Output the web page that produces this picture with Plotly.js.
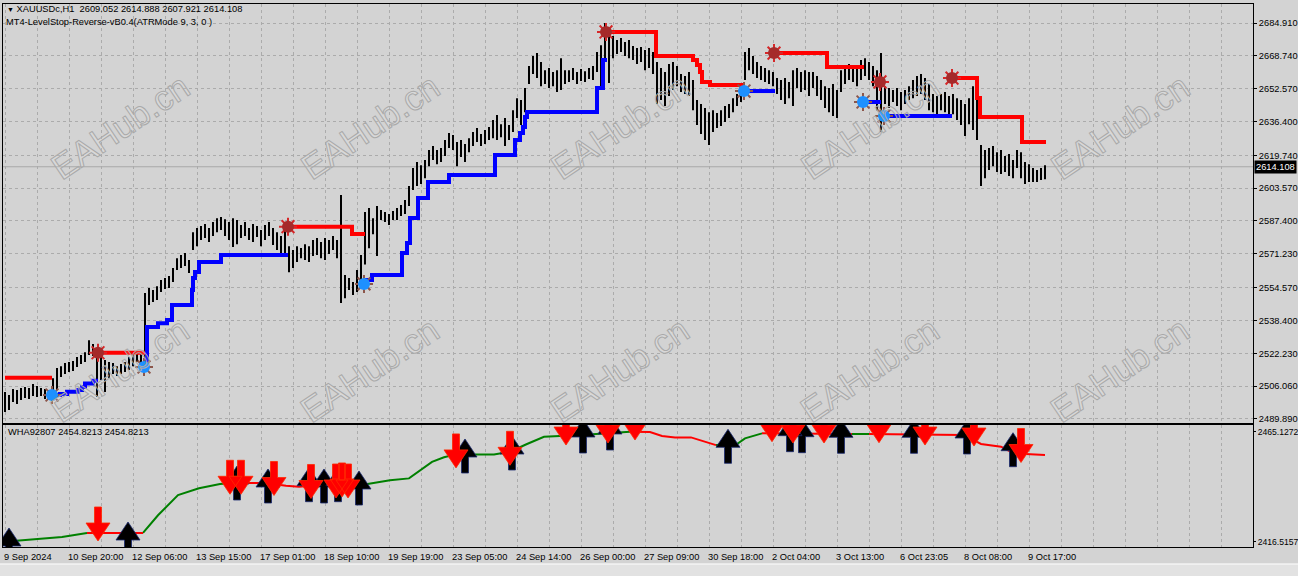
<!DOCTYPE html>
<html><head><meta charset="utf-8">
<script src="https://cdn.plot.ly/plotly-3.0.1.min.js"></script>
<style>html,body{margin:0;padding:0;background:#d3d3d3;overflow:hidden}#chart{width:1298px;height:576px}</style>
</head><body><div id="chart"></div>
<script>
// ---------- DATA ----------
const symbolName = 'XAUUSDc,H1';
const lastOHLC = [2609.052, 2614.888, 2607.921, 2614.108];
const indicatorTitle = 'MT4-LevelStop-Reverse-vB0.4(ATRMode 9, 3, 0 )';
const subName = 'WHA92807';
const subLast = 2454.8213;
const watermarkText = 'EAHub.cn';

// H1 bars (sampled every 2nd bar): high / low
const barHigh = [
2503.2,2501.7,2504.6,2504.1,2505.1,2505.6,2505.1,2507.1,2506.1,2505.1,
2504.6,2504.1,2510.0,2515.0,2515.9,2517.4,2517.9,2518.4,2520.4,2521.4,
2522.8,2528.7,2526.8,2523.8,2520.4,2518.9,2517.9,2517.4,2515.9,2516.9,
2517.9,2520.4,2522.8,2522.0,2522.3,2551.9,2554.4,2553.4,2555.3,2558.3,
2559.3,2560.3,2564.2,2569.1,2570.6,2571.6,2568.2,2581.9,2583.9,2584.9,
2585.9,2583.9,2586.9,2588.8,2589.3,2588.3,2586.9,2588.8,2587.9,2585.4,
2586.9,2583.9,2585.9,2584.9,2582.9,2585.4,2586.9,2583.9,2581.9,2580.0,
2583.9,2575.0,2573.1,2575.0,2574.1,2576.0,2575.0,2578.0,2579.0,2577.0,
2579.0,2578.0,2580.0,2578.0,2600.2,2560.8,2559.3,2557.3,2563.2,2570.6,
2591.8,2593.8,2588.8,2594.8,2592.8,2591.8,2590.8,2592.3,2593.8,2595.3,
2597.7,2604.6,2613.5,2616.4,2614.9,2617.4,2622.3,2624.3,2622.3,2623.3,
2627.3,2630.7,2629.7,2626.3,2627.3,2625.3,2628.2,2631.2,2633.2,2630.2,
2632.2,2633.7,2637.1,2639.6,2635.1,2638.1,2634.7,2642.0,2647.9,2647.0,
2652.9,2663.7,2668.6,2670.1,2665.7,2661.7,2662.7,2660.8,2661.7,2667.6,
2661.7,2661.7,2662.7,2660.8,2662.2,2661.2,2662.7,2663.7,2670.6,2674.0,
2684.9,2679.5,2678.5,2676.5,2677.5,2675.5,2676.5,2673.6,2672.6,2673.1,
2671.6,2672.6,2670.6,2665.7,2662.7,2660.8,2664.7,2665.7,2663.7,2659.8,
2658.8,2660.8,2656.8,2647.0,2645.0,2643.0,2641.0,2642.0,2640.6,2642.0,
2644.0,2645.0,2647.9,2649.9,2651.9,2670.6,2672.6,2668.6,2665.7,2663.7,
2662.7,2661.7,2660.8,2657.8,2656.8,2657.8,2655.8,2661.7,2662.7,2660.8,
2661.7,2660.8,2660.8,2658.8,2656.8,2653.8,2652.9,2654.9,2651.9,2661.7,
2663.7,2664.7,2663.2,2664.2,2666.7,2667.6,2665.7,2663.7,2661.7,2670.1,
2653.8,2652.9,2651.9,2652.9,2650.9,2651.9,2653.8,2656.8,2658.8,2659.8,
2657.8,2654.9,2649.9,2648.9,2649.9,2650.9,2648.9,2649.9,2647.9,2647.0,
2645.0,2647.9,2653.8,2647.0,2624.8,2622.3,2623.3,2624.3,2621.3,2622.3,
2619.4,2620.4,2617.4,2622.3,2621.3,2616.4,2615.4,2613.5,2612.5,2613.5,2614.888];
const barLow = [
2493.3,2494.3,2498.2,2497.2,2499.2,2500.2,2499.7,2501.2,2500.7,2501.2,
2499.7,2500.2,2503.2,2504.1,2510.5,2512.0,2513.0,2513.5,2515.5,2516.9,
2517.9,2521.4,2520.9,2500.7,2509.1,2503.2,2510.0,2512.0,2511.0,2512.0,
2513.0,2514.0,2515.9,2517.9,2517.4,2517.4,2546.0,2547.5,2548.5,2552.4,
2553.9,2554.4,2557.3,2563.2,2564.2,2565.2,2561.8,2573.1,2575.0,2578.0,
2579.0,2577.0,2580.0,2581.9,2582.9,2580.0,2578.0,2574.6,2576.0,2579.0,
2580.0,2578.0,2577.0,2579.5,2575.0,2578.0,2580.0,2575.6,2573.1,2571.1,
2569.6,2562.2,2564.2,2567.2,2569.1,2568.2,2567.2,2570.1,2570.6,2569.1,
2568.2,2571.1,2573.1,2569.1,2547.0,2549.4,2553.4,2550.9,2552.4,2555.8,
2566.0,2574.0,2580.9,2570.1,2587.9,2586.9,2585.4,2587.9,2587.9,2589.8,
2590.8,2594.8,2602.6,2604.6,2605.6,2608.5,2614.4,2617.4,2615.4,2616.4,
2619.4,2623.3,2622.3,2614.4,2618.9,2616.4,2621.3,2624.3,2626.3,2624.3,
2625.3,2627.3,2628.2,2627.3,2628.7,2624.3,2627.3,2631.2,2638.1,2634.7,
2641.0,2654.9,2659.8,2657.8,2653.8,2654.9,2652.9,2653.8,2650.9,2651.9,
2654.9,2655.8,2656.8,2654.9,2656.3,2655.8,2657.3,2656.8,2660.8,2653.8,
2666.7,2655.3,2667.6,2669.6,2670.6,2668.6,2667.6,2666.7,2664.7,2665.7,
2661.7,2662.7,2659.8,2645.0,2647.0,2644.0,2648.9,2651.9,2653.8,2650.9,
2649.9,2648.9,2642.0,2634.7,2630.2,2627.3,2624.8,2631.2,2633.2,2634.2,
2636.1,2638.1,2641.0,2644.0,2646.0,2656.8,2661.7,2659.8,2657.8,2656.8,
2655.8,2654.9,2653.8,2649.9,2647.0,2645.0,2647.9,2644.0,2652.9,2650.9,
2651.9,2648.9,2652.9,2648.9,2647.0,2643.0,2641.0,2639.1,2638.1,2650.9,
2654.9,2656.8,2655.8,2653.8,2656.8,2658.8,2656.8,2653.8,2642.0,2631.2,
2645.0,2643.0,2646.0,2644.0,2642.0,2645.0,2647.0,2647.9,2648.9,2649.9,
2647.0,2642.0,2641.0,2640.0,2642.0,2641.0,2638.1,2640.0,2637.1,2634.7,
2629.2,2635.1,2632.2,2627.3,2604.6,2608.5,2612.5,2614.4,2611.5,2610.5,
2611.5,2609.5,2608.5,2613.5,2608.5,2605.6,2606.6,2606.6,2606.6,2607.6,2607.921];

// LevelStop lines (bar position, level), null separates segments
const redStopBar = [0,11.75,null, 23.25,35,null, 70.75,86.75,90,null,
  150.25,162.75,172,173,173.75,174.25,176.25,184.75,null, 192.25,205.5,214.75,null,
  236.75,243,243.75,254.25,260.25];
const redStopLevel = [2510.2,2510.2,null, 2522.5,2522.5,null, 2584.6,2581.0,2581.0,null,
  2680.5,2668.7,2666.7,2664.2,2660.8,2655.9,2654.4,2654.4,null, 2670.1,2663.2,2663.2,null,
  2657.8,2648.0,2638.6,2626.3,2626.3];
const blueStopBar = [11.75,13.75,15.5,18.25,19.25,20,22,23.25,null,
  34.75,35.5,38.25,40.5,41.75,46.75,47,47.5,48.5,54,70.75,null,
  89.75,91.75,99.25,100.5,101.25,103.25,105.75,111,122.5,127.5,128.75,129.5,130,130.5,148,149.5,150.5,null,
  184.75,192.5,null, 214.5,219,null, 219.75,236.75];
const blueStopLevel = [2501.7,2502.2,2503.3,2504.2,2505.6,2507.4,2508.7,2508.7,null,
  2515.5,2535.2,2537.0,2538.6,2546.0,2553.4,2559.3,2562.3,2567.2,2570.6,2570.6,null,
  2558.3,2560.8,2571.6,2576.6,2588.9,2598.7,2606.6,2610.0,2619.9,2627.3,2630.7,2633.7,2638.6,2641.1,2652.9,2666.7,2666.7,null,
  2651.4,2651.4,null, 2646.0,2646.0,null, 2639.1,2639.1];

// reversal dots
const sellDotBar = [23.25,70.75,150.25,192.25,218.75,236.75];
const sellDotLevel = [2522.5,2584.6,2680.5,2670.1,2655.9,2657.8];
const buyDotBar = [11.75,34.75,89.75,184.75,214.5,219.75];
const buyDotLevel = [2501.7,2515.5,2556.4,2651.4,2646.0,2639.1];

// lower indicator WHA92807 (green = rising state, red = falling state)
const whaUpBar = [-0.25,3,9,14.25,20.5,null, 34.5,38.25,43.25,46.5,48.5,53.75,56.75,null,
  88.75,96.25,101,106.75,109.75,112.75,122.25,126.25,130.5,134.75,144,154.25,156.25,null,
  177.75,183,185,189.25,null, 211.75,216];
const whaUpVal = [2416.5157,2417.0,2417.8,2418.6,2420.4,null, 2420.4,2428.2,2437.1,2439.0,2440.1,2442.0,2442.5,null,
  2441.5,2443.7,2444.5,2451.8,2453.8,2455.1,2455.1,2456.3,2459.7,2462.9,2463.7,2465.1272,2465.1,null,
  2459.2,2459.7,2462.2,2464.4,null, 2464.1,2464.1];
const whaDnBar = [20.5,34.5,null, 56.75,65.25,70.25,73.5,77.5,83.75,88.75,null,
  156.25,161.25,164.25,167.5,171.5,174.75,177.75,null, 189.25,211.75,null,
  216,239.75,244,249,252.25,260];
const whaDnVal = [2420.4,2420.4,null, 2442.5,2442.5,2441.2,2440.8,2441.5,2441.8,2441.5,null,
  2465.1,2465.0,2463.2,2462.6,2462.6,2460.7,2459.2,null, 2464.4,2464.1,null,
  2464.1,2463.7,2459.7,2458.5,2455.5,2454.8213];

// signal arrows in lower pane (tip values)
const downArrowBar = [23.25,56.25,59,67.25,76.5,82.75,84.25,85.75,112.75,126.25,140.25,150.75,157.5,191.75,197,204.75,218.5,230,242.25,254];
const downArrowVal = [2416.83,2437.47,2437.47,2436.94,2435.61,2435.83,2436.3,2435.83,2449.13,2450.28,2459.23,2460.12,2461.45,2460.70,2460.12,2460.12,2460.25,2459.23,2458.79,2451.52];
const upArrowBar = [1,30.75,58,65.75,76,79.75,83.25,88.5,115,126.75,144.5,151.25,180.75,196.25,199.25,209,227.25,240.5,252];
const upArrowVal = [2422.58,2425.23,2449.97,2448.65,2449.22,2448.65,2449.22,2447.76,2461.9,2463.23,2470.74,2472.07,2466.19,2471.32,2470.87,2470.61,2470.61,2470.3,2464.69];

// axes
const priceTicks = [2684.910,2668.740,2652.570,2636.400,2619.740,2603.570,2587.400,2571.230,2554.570,2538.400,2522.230,2506.060,2489.890];
const subTicks = [2465.1272, 2416.5157];
const dateLabels = ['9 Sep 2024','10 Sep 20:00','12 Sep 06:00','13 Sep 15:00','17 Sep 01:00','18 Sep 10:00','19 Sep 19:00','23 Sep 05:00','24 Sep 14:00','26 Sep 00:00','27 Sep 09:00','30 Sep 18:00','2 Oct 04:00','3 Oct 13:00','6 Oct 23:05','8 Oct 08:00','9 Oct 17:00'];
const dateLabelBar = [0,16,32,48,64,80,96,112,128,144,160,176,192,208,224,240,256];

// ---------- BUILD ----------
const FONT = 'Liberation Sans, Arial, DejaVu Sans, sans-serif';
const gridColor = '#ababab';
const xRange = [-0.5, 312];
const yRange = [2487.91, 2694.27];
const y2Range = [2414.18, 2468.09];
const PLOT_W = 1250, SUB_H = 122;
const pxPerBar = PLOT_W / (xRange[1] - xRange[0]);
const valPerPx2 = (y2Range[1] - y2Range[0]) / SUB_H;
const gridBars = []; for (let k = 0; k <= 312; k += 8) gridBars.push(k);

const bx = [], by = [];
barHigh.forEach((h, i) => { bx.push(i, i, null); by.push(barLow[i], h, null); });

// block-arrow glyph outline (pixels relative to tip), drawn as clipped filled polygons
const arrowGlyph = [[0,0],[-12,18],[-3.5,18],[-3.5,34],[3.5,34],[3.5,18],[12,18],[0,0]];
function arrowPolys(bars, vals, dir) {
  const xs = [], ys = [];
  bars.forEach((k, i) => {
    arrowGlyph.forEach(([dx, dy]) => { xs.push(k + dx / pxPerBar); ys.push(vals[i] + dir * dy * valPerPx2); });
    xs.push(null); ys.push(null);
  });
  return {xs, ys};
}
const dnA = arrowPolys(downArrowBar, downArrowVal, 1);
const upA = arrowPolys(upArrowBar, upArrowVal, -1);

const traces = [
  {x: bx, y: by, type: 'scatter', mode: 'lines', line: {color: '#000', width: 2}, xaxis: 'x', yaxis: 'y', hoverinfo: 'skip'},
  {x: redStopBar, y: redStopLevel, type: 'scatter', mode: 'lines', line: {color: '#ff0000', width: 4, shape: 'hv'}, connectgaps: false, xaxis: 'x', yaxis: 'y'},
  {x: blueStopBar, y: blueStopLevel, type: 'scatter', mode: 'lines', line: {color: '#0000ff', width: 4, shape: 'hv'}, connectgaps: false, xaxis: 'x', yaxis: 'y'},
  {x: sellDotBar, y: sellDotLevel, type: 'scatter', mode: 'markers', marker: {symbol: 'asterisk-open', size: 15, line: {color: '#c0503a', width: 2}}, xaxis: 'x', yaxis: 'y'},
  {x: sellDotBar, y: sellDotLevel, type: 'scatter', mode: 'markers', marker: {symbol: 'circle', size: 12, color: '#a52a2a', line: {width: 0}}, xaxis: 'x', yaxis: 'y'},
  {x: buyDotBar, y: buyDotLevel, type: 'scatter', mode: 'markers', marker: {symbol: 'asterisk-open', size: 15, line: {color: '#3aa0ff', width: 2}}, xaxis: 'x', yaxis: 'y'},
  {x: buyDotBar, y: buyDotLevel, type: 'scatter', mode: 'markers', marker: {symbol: 'circle', size: 12, color: '#1e90ff', line: {width: 0}}, xaxis: 'x', yaxis: 'y'},
  {x: whaUpBar, y: whaUpVal, type: 'scatter', mode: 'lines', line: {color: '#008000', width: 2}, connectgaps: false, xaxis: 'x2', yaxis: 'y2'},
  {x: whaDnBar, y: whaDnVal, type: 'scatter', mode: 'lines', line: {color: '#ff0000', width: 2}, connectgaps: false, xaxis: 'x2', yaxis: 'y2'},
  {x: upA.xs, y: upA.ys, type: 'scatter', mode: 'lines', fill: 'toself', fillcolor: '#000000', line: {color: '#1a2a70', width: 0.8}, connectgaps: false, xaxis: 'x2', yaxis: 'y2'},
  {x: dnA.xs, y: dnA.ys, type: 'scatter', mode: 'lines', fill: 'toself', fillcolor: '#ff0000', line: {color: '#ff2a00', width: 0.8}, connectgaps: false, xaxis: 'x2', yaxis: 'y2'}
];

const ann = [];
ann.push({xref: 'paper', yref: 'paper', x: 0, y: 1, xanchor: 'left', yanchor: 'top', xshift: 2, yshift: 2, showarrow: false,
  text: '<span style="font-size:7px">▼</span> ' + symbolName + '\u00a0 ' + lastOHLC.map(v => v.toFixed(3)).join(' '),
  font: {family: FONT, size: 9.3, color: '#000'}});
ann.push({xref: 'paper', yref: 'paper', x: 0, y: 1, xanchor: 'left', yanchor: 'top', xshift: 1, yshift: -11, showarrow: false,
  text: indicatorTitle, font: {family: FONT, size: 9.3, color: '#000'}});
ann.push({xref: 'paper', yref: 'paper', x: 0, y: 0.2247, xanchor: 'left', yanchor: 'top', xshift: 3, yshift: 0, showarrow: false,
  text: subName + ' ' + subLast.toFixed(4) + ' ' + subLast.toFixed(4), font: {family: FONT, size: 9.3, color: '#000'}});
dateLabels.forEach((t, i) => ann.push({xref: 'x2', yref: 'paper', x: dateLabelBar[i], y: 0, xanchor: 'left', yanchor: 'top',
  xshift: -3, yshift: -3, showarrow: false, text: t, font: {family: FONT, size: 9.3, color: '#000'}}));
ann.push({xref: 'paper', yref: 'y', x: 1, y: lastOHLC[3], xanchor: 'left', yanchor: 'middle', xshift: 1, showarrow: false,
  text: lastOHLC[3].toFixed(3), bgcolor: '#000', borderpad: 1, font: {family: FONT, size: 9.3, color: '#fff'}});
// watermarks
const wmX = [0.0936, 0.2936, 0.4936, 0.6936, 0.8936];
const wmY = [0.7753, 0.3260];
wmY.forEach(yy => wmX.forEach(xx => ann.push({xref: 'paper', yref: 'paper', x: xx, y: yy, xanchor: 'center', yanchor: 'middle',
  showarrow: false, text: watermarkText, textangle: -34, font: {family: FONT, size: 35, color: '#cfcfcf'}})));

const axCommon = {showline: true, mirror: true, linecolor: '#000', linewidth: 1, zeroline: false, fixedrange: true};
const layout = {
  width: 1298, height: 576,
  margin: {l: 3, r: 45, t: 4, b: 29},
  paper_bgcolor: '#d3d3d3', plot_bgcolor: '#d3d3d3',
  showlegend: false,
  font: {family: FONT, size: 9.3, color: '#000'},
  xaxis: Object.assign({domain: [0, 1], anchor: 'y', range: xRange, tickmode: 'array', tickvals: gridBars,
    showticklabels: false, ticks: '', showgrid: true, gridcolor: gridColor, griddash: '3px,3px', gridwidth: 1}, axCommon),
  yaxis: Object.assign({domain: [0.2284, 1], anchor: 'x', side: 'right', range: yRange, tickmode: 'array',
    tickvals: priceTicks, ticktext: priceTicks.map(v => v.toFixed(3)), ticks: 'outside', ticklen: 3, tickcolor: '#000',
    showgrid: true, gridcolor: gridColor, griddash: '3px,3px', gridwidth: 1}, axCommon),
  xaxis2: Object.assign({domain: [0, 1], anchor: 'y2', range: xRange, tickmode: 'array', tickvals: gridBars,
    showticklabels: false, ticks: '', showgrid: true, gridcolor: gridColor, griddash: '3px,3px', gridwidth: 1}, axCommon),
  yaxis2: Object.assign({domain: [0, 0.2247], anchor: 'x2', side: 'right', range: y2Range, tickmode: 'array',
    tickvals: subTicks, ticktext: subTicks.map(v => v.toFixed(4)), ticks: 'outside', ticklen: 2, tickcolor: '#000',
    tickfont: {family: FONT, size: 8.6, color: '#000'}, showgrid: false}, axCommon),
  shapes: [
    {type: 'line', xref: 'paper', yref: 'y', x0: 0, x1: 1, y0: lastOHLC[3], y1: lastOHLC[3], line: {color: '#a8a8a8', width: 1}, layer: 'below'},
    {type: 'rect', xref: 'paper', yref: 'paper', x0: -0.01, x1: 1.04, y0: -0.0313, y1: -0.06, fillcolor: '#e2e2e2', line: {width: 0}},
    {type: 'line', xref: 'paper', yref: 'paper', x0: -0.01, x1: 1.04, y0: -0.0313, y1: -0.0313, line: {color: '#ffffff', width: 1}}
  ],
  annotations: ann
};

Plotly.newPlot('chart', traces, layout, {staticPlot: true, displayModeBar: false}).then(gd => {
  gd.querySelectorAll('text.annotation-text').forEach(t => {
    if (t.textContent === watermarkText) {
      t.style.fill = 'rgba(255,255,255,0.12)';
      t.style.stroke = '#a9a9a9';
      t.style.strokeWidth = '1px';
    }
  });
});
</script>
</body></html>
